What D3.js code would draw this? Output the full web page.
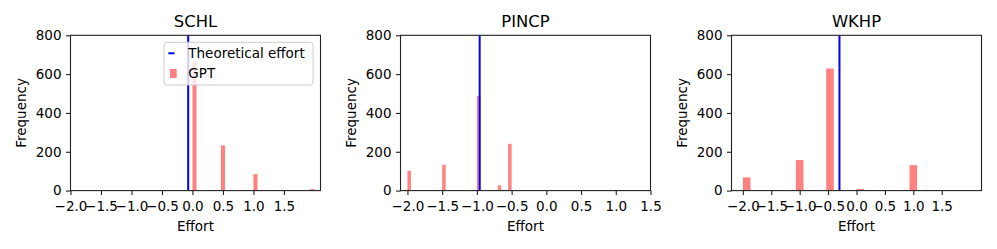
<!DOCTYPE html>
<html><head><meta charset="utf-8">
<script src="https://cdn.jsdelivr.net/npm/d3@7"></script>
<style>body{margin:0;background:#fff}svg{display:block}text{font-family:"DejaVu Sans",sans-serif;fill:#000}</style>
</head><body>
<svg id="chart" width="997" height="249"></svg>
<script>
const titles = ["SCHL", "PINCP", "WKHP"];
// histogram bin left edges, counts and bin width per panel
const schlBins = [0, 0.4667, 1.0, 1.9333];
const schlCounts = [665, 233, 85, 8];
const schlWidth = 0.0667;
const pincpBins = [-2.0, -1.5, -1.0, -0.85, -0.7, -0.55];
const pincpCounts = [102, 133, 488, 2, 27, 241];
const pincpWidth = 0.05;
const wkhpBins = [-2.0, -1.0667, -0.5333, 0, 0.9333];
const wkhpCounts = [68, 157, 629, 8, 131];
const wkhpWidth = 0.1333;
const theoretical = [-0.07, -0.96, -0.30];
const xDomains = [[-2, 2.1], [-2.1, 1.5], [-2.2, 2.2]];
const xTicks = [-2.0, -1.5, -1.0, -0.5, 0.0, 0.5, 1.0, 1.5];
const yTicks = [0, 200, 400, 600, 800];
const legendLabels = ["Theoretical effort", "GPT"];

const panelData = [
  {bins: schlBins, counts: schlCounts, w: schlWidth},
  {bins: pincpBins, counts: pincpCounts, w: pincpWidth},
  {bins: wkhpBins, counts: wkhpCounts, w: wkhpWidth}
];

const svg = d3.select("#chart");
const lefts = [70.5, 400.5, 731.5];
const pw = 250, plotTop = 35.3, plotBottom = 190.6;
const fs = 13.5;

panelData.forEach((pd, i) => {
  const x = d3.scaleLinear().domain(xDomains[i]).range([lefts[i], lefts[i] + pw]);
  const y = d3.scaleLinear().domain([0, 800]).range([plotBottom, plotTop]);
  const g = svg.append("g");

  // bars
  g.selectAll("rect.bar").data(pd.bins.map((b, k) => ({x0: b, c: pd.counts[k]})))
    .enter().append("rect")
    .attr("x", d => x(d.x0)).attr("width", d => x(d.x0 + pd.w) - x(d.x0))
    .attr("y", d => y(d.c)).attr("height", d => y(0) - y(d.c))
    .attr("fill", "rgb(255,128,128)");

  // theoretical line
  g.append("line")
    .attr("x1", x(theoretical[i])).attr("x2", x(theoretical[i]))
    .attr("y1", y(0)).attr("y2", y(800))
    .attr("stroke", "#0000ff").attr("stroke-width", 2);

  // axes
  const xa = g.append("g").attr("transform", `translate(0,${plotBottom})`)
    .call(d3.axisBottom(x).tickValues(xTicks).tickFormat(d3.format(".1f")).tickSize(4.5).tickSizeOuter(0).tickPadding(4.5));
  const ya = g.append("g").attr("transform", `translate(${lefts[i]},0)`)
    .call(d3.axisLeft(y).tickValues(yTicks).tickFormat(d3.format("d")).tickSize(4.5).tickSizeOuter(0).tickPadding(4.5));
  [xa, ya].forEach(a => {
    a.select(".domain").remove();
    a.selectAll("line").attr("stroke", "#222").attr("stroke-width", 1.1);
    a.selectAll("text").attr("font-size", fs).attr("font-family", "DejaVu Sans").attr("fill", "#000");
  });
  xa.selectAll("text").attr("dy", null).attr("y", 20.8);

  // frame
  g.append("rect").attr("x", lefts[i]).attr("y", plotTop).attr("width", pw).attr("height", plotBottom - plotTop)
    .attr("fill", "none").attr("stroke", "#222").attr("stroke-width", 1.1);

  // title & labels
  g.append("text").attr("x", lefts[i] + pw / 2).attr("y", 27).attr("text-anchor", "middle")
    .attr("font-size", 16.4).text(titles[i]);
  g.append("text").attr("x", lefts[i] + pw / 2).attr("y", 230.6).attr("text-anchor", "middle")
    .attr("font-size", fs).text("Effort");
  g.append("text").attr("transform", `translate(${lefts[i] - 44.3},${(plotTop + plotBottom) / 2}) rotate(-90)`)
    .attr("text-anchor", "middle").attr("font-size", fs).text("Frequency");

  if (i === 0) {
    const lg = g.append("g");
    lg.append("rect").attr("x", 164).attr("y", 42.3).attr("width", 149).attr("height", 42.7)
      .attr("rx", 3).attr("fill", "#fff").attr("fill-opacity", 0.8).attr("stroke", "#ccc").attr("stroke-width", 1);
    lg.append("line").attr("x1", 168.3).attr("x2", 174.5).attr("y1", 53.3).attr("y2", 53.3)
      .attr("stroke", "#0000ff").attr("stroke-width", 2);
    lg.append("rect").attr("x", 170).attr("y", 69).attr("width", 6.7).attr("height", 9)
      .attr("fill", "rgb(255,128,128)");
    lg.append("text").attr("x", 188.3).attr("y", 57.7).attr("font-size", fs).text(legendLabels[0]);
    lg.append("text").attr("x", 188.3).attr("y", 78.3).attr("font-size", fs).text(legendLabels[1]);
  }
});
</script>
</body></html>
